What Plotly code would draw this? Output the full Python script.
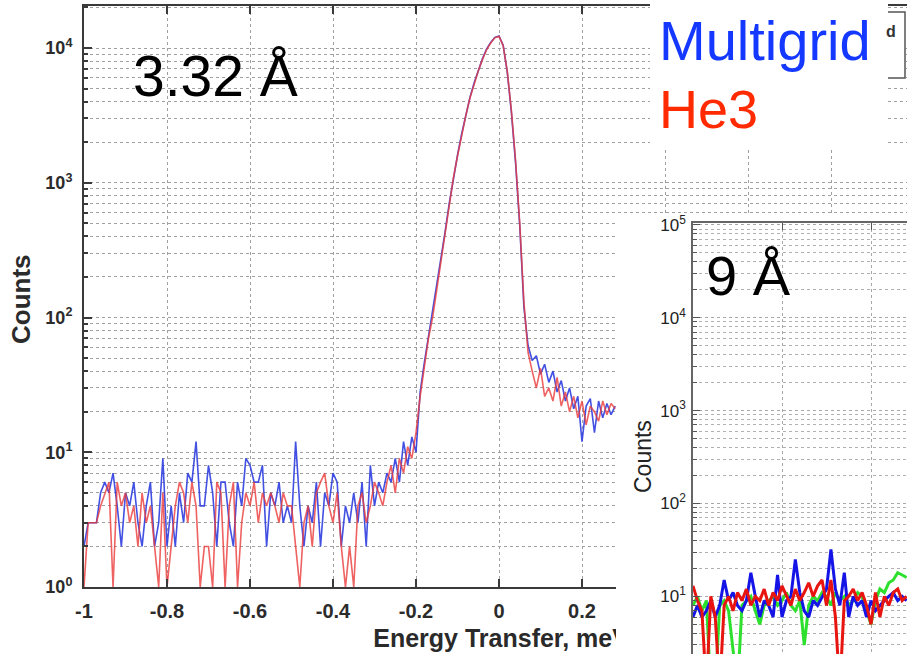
import numpy as np
import plotly.graph_objects as go

W, H = 907, 654

# ---------------- 3.32 Å measurement (0.01 meV bins) ----------------
energy_332 = np.round(np.arange(-1.0, 0.2801, 0.01), 2)

multigrid_332 = [
    2, 3, 3, 3, 5, 6, 5, 7, 4, 2,
    5, 4, 6, 3, 2, 4, 6, 2, 3, 9,
    2, 4, 2, 5, 3, 7, 6, 12, 4, 4,
    8, 5, 2, 6, 6, 3, 2, 6, 4, 9,
    8, 6, 6, 8, 2, 5, 4, 6, 3, 4,
    3, 12, 4, 2, 4, 3, 6, 2, 5, 4,
    7, 6, 2, 4, 3, 5, 3, 6, 2, 8,
    4, 6, 5, 7, 6, 9, 6, 12, 8, 13,
    10, 28, 46, 72, 105, 165, 265, 430, 700, 1100,
    1600, 2300, 3200, 4300, 5500, 6800, 8300, 9800, 11000, 12000,
    12300, 10500, 6600, 3300, 1400, 480, 120, 62, 48, 52,
    38, 45, 33, 40, 28, 34, 24, 30, 21, 26,
    12, 22, 25, 14, 24, 18, 23, 19, 22,
]

he3_332 = [
    1, 3, 3, 3, 4, 5, 6, 1, 6, 4,
    5, 3, 4, 2, 5, 3, 4, 2, 1, 5,
    1, 2, 4, 6, 5, 3, 6, 4, 1, 2,
    2, 1, 6, 5, 1, 4, 6, 1, 3, 5,
    4, 6, 3, 5, 4, 5, 4, 3, 5, 4,
    4, 2, 1, 3, 4, 2, 5, 6, 7, 4,
    3, 5, 2, 1, 2, 1, 4, 5, 3, 4,
    6, 5, 4, 6, 8, 5, 9, 7, 11, 9,
    14, 26, 44, 70, 100, 160, 260, 420, 690, 1080,
    1580, 2250, 3150, 4250, 5450, 6750, 8200, 9700, 10900, 11900,
    12200, 10400, 6700, 3400, 1450, 500, 130, 55, 40, 30,
    42, 26, 30, 24, 36, 22, 28, 20, 26, 18,
    24, 16, 22, 20, 17, 24, 19, 23, 21,
]

# ---------------- 9 Å measurement (left part of the second panel) ----------------
energy_9 = np.round(np.arange(-1.0, -0.5199, 0.01), 2)

multigrid_9 = [
    6, 8, 6, 7, 9, 6, 8, 15, 9, 11,
    8, 7, 9, 18, 10, 6, 9, 8, 6, 17,
    6, 9, 10, 25, 11, 7, 6, 9, 8, 10,
    12, 32, 12, 8, 18, 6, 10, 8, 9, 6,
    9, 7, 8, 9, 10, 11, 9, 10, 9,
]

he3_9 = [
    13, 9, 7, 1, 10, 6, 1, 8, 10, 7,
    11, 9, 12, 8, 10, 9, 12, 8, 11, 9,
    13, 10, 8, 12, 9, 11, 14, 10, 13, 15,
    8, 15, 6, 1, 9, 10, 12, 9, 11, 8,
    5, 11, 6, 10, 8, 11, 12, 9, 10,
]

third_9 = [
    8, 10, 7, 9, 1, 1, 8, 9, 7, 3,
    1, 8, 9, 10, 7, 5, 8, 9, 10, 8,
    9, 11, 8, 7, 9, 3, 8, 10, 9, 11,
    10, 8, 11, 9, 10, 8, 9, 11, 10, 7,
    5, 9, 12, 11, 14, 15, 18, 17, 16,
]

# ---------------- tick labels ----------------
main_x_tickvals = [-1, -0.8, -0.6, -0.4, -0.2, 0, 0.2, 0.4, 0.6, 0.8]
main_x_ticktext = ["-1", "-0.8", "-0.6", "-0.4", "-0.2", "0", "0.2", "", "", ""]
decades = [1, 10, 100, 1000, 10000, 100000]
decade_text = ["10<sup>%d</sup>" % k for k in range(6)]
minor_vals = [m * d for d in decades for m in range(2, 10)]
panel2_x_tickvals = [-0.8, -0.6]
x_title = "Energy Transfer, meV"
x_title_pos = 0.005


# ---------------- pixel helpers ----------------
def px(xp):
    return min(max(xp / W, 0.0), 1.0)


def py(yp):
    return min(max(1 - yp / H, 0.0), 1.0)


# main panel: x = -1 at 84 px, 415 px per meV; 10^0 at 587 px, 134.75 px per decade
MAIN_X0, MAIN_XS = 84, 415.0
MAIN_Y0, MAIN_YS = 587, 134.75
MAIN_TOP = 6
main_xrange = [-1, -1 + (W - MAIN_X0) / MAIN_XS]
main_yrange = [0, (MAIN_Y0 - MAIN_TOP) / MAIN_YS]

# second panel: x = -1 at 693 px, 445 px per meV; 10^1 at 596.4 px, 92.9 px per decade
P2_X0, P2_XS = 693, 445.0
P2_Y1, P2_YS = 596.4, 92.9
P2_TOP = 223
p2_xrange = [-1, -1 + (W - P2_X0) / P2_XS]
p2_yrange = [1 - (H - P2_Y1) / P2_YS, 1 + (P2_Y1 - P2_TOP) / P2_YS]

AXIS = "#3a3a3a"
GRID = "#a0a0a0"
BLUE = "#2f3fe0"
RED = "#ec3b3b"
SANS = "Liberation Sans"

fig = go.Figure()

# main panel curves
fig.add_trace(go.Scatter(x=energy_332, y=multigrid_332, mode="lines", name="Multigrid",
                         line=dict(color=BLUE, width=1.6), opacity=0.9,
                         xaxis="x", yaxis="y", showlegend=False))
fig.add_trace(go.Scatter(x=energy_332, y=he3_332, mode="lines", name="He3",
                         line=dict(color=RED, width=1.6), opacity=0.8,
                         xaxis="x", yaxis="y", showlegend=False))

# overlay axis that carries the x title inside the main subplot's layers
fig.add_trace(go.Scatter(x=[], y=[], xaxis="x4", yaxis="y", showlegend=False, hoverinfo="skip"))

# blank white sheet behind the second panel
fig.add_trace(go.Scatter(x=[], y=[], xaxis="x2", yaxis="y2", showlegend=False, hoverinfo="skip"))

# second panel curves
fig.add_trace(go.Scatter(x=energy_9, y=third_9, mode="lines", name="Series 3",
                         line=dict(color="#2ee02e", width=3),
                         xaxis="x3", yaxis="y3", showlegend=False))
fig.add_trace(go.Scatter(x=energy_9, y=multigrid_9, mode="lines", name="Multigrid",
                         line=dict(color="#1414e6", width=3),
                         xaxis="x3", yaxis="y3", showlegend=False))
fig.add_trace(go.Scatter(x=energy_9, y=he3_9, mode="lines", name="He3",
                         line=dict(color="#e8140f", width=3),
                         xaxis="x3", yaxis="y3", showlegend=False))

main_xfont = dict(family=SANS, size=20, color="#2b2b2b", weight="bold")
main_yfont = dict(family=SANS, size=18, color="#2b2b2b", weight="bold")
p2_tickfont = dict(family=SANS, size=17, color="#222222")

fig.update_layout(
    width=W, height=H,
    margin=dict(l=0, r=0, t=0, b=0, pad=0),
    paper_bgcolor="white", plot_bgcolor="white",
    xaxis=dict(
        domain=[px(MAIN_X0), 1], range=main_xrange, anchor="y", automargin=False,
        tickmode="array", tickvals=main_x_tickvals, ticktext=main_x_ticktext,
        ticks="inside", ticklen=8, tickwidth=1.5, tickcolor=AXIS,
        showline=True, linecolor=AXIS, linewidth=2, mirror="ticks",
        showgrid=True, gridcolor=GRID, griddash="dot", gridwidth=1,
        zeroline=False, tickfont=main_xfont, ticklabelstandoff=5,
    ),
    xaxis4=dict(
        overlaying="x", anchor="y", side="bottom", range=main_xrange, automargin=False,
        tickmode="array", tickvals=[x_title_pos], ticktext=[x_title],
        ticks="", showgrid=False, showline=False, zeroline=False,
        tickfont=dict(family=SANS, size=25, color="#2a2a2a", weight="bold"),
        ticklabelstandoff=34,
    ),
    yaxis=dict(
        type="log", domain=[py(MAIN_Y0), py(MAIN_TOP)], range=main_yrange, anchor="x",
        automargin=False,
        tickmode="array", tickvals=decades[:5], ticktext=decade_text[:5],
        ticks="inside", ticklen=8, tickwidth=1.5, tickcolor=AXIS,
        showline=True, linecolor=AXIS, linewidth=2,
        showgrid=True, gridcolor=GRID, griddash="dot", gridwidth=1,
        zeroline=False, tickfont=main_yfont, ticklabelstandoff=6,
        minor=dict(tickmode="array", tickvals=minor_vals, ticks="inside", ticklen=4,
                   tickcolor=AXIS, showgrid=True, gridcolor=GRID, griddash="dot", gridwidth=1),
    ),
    xaxis2=dict(domain=[px(616), 1], range=[0, 1], anchor="y2", automargin=False, showgrid=False,
                zeroline=False, showline=False, showticklabels=False, ticks=""),
    yaxis2=dict(domain=[0, py(214)], range=[0, 1], anchor="x2", automargin=False, showgrid=False,
                zeroline=False, showline=False, showticklabels=False, ticks=""),
    xaxis3=dict(
        domain=[px(P2_X0), 1], range=p2_xrange, anchor="y3", side="top", automargin=False,
        tickmode="array", tickvals=panel2_x_tickvals, showticklabels=False,
        ticks="inside", ticklen=7, tickcolor="#555555",
        showline=True, linecolor="#666666", linewidth=1.5,
        showgrid=True, gridcolor="#a8a8a8", griddash="dot", gridwidth=1, zeroline=False,
    ),
    yaxis3=dict(
        type="log", domain=[0, py(P2_TOP)], range=p2_yrange, anchor="x3", automargin=False,
        tickmode="array", tickvals=decades[1:], ticktext=decade_text[1:],
        ticks="inside", ticklen=7, tickcolor="#555555",
        showline=True, linecolor="#666666", linewidth=1.5,
        showgrid=True, gridcolor="#a8a8a8", griddash="dot", gridwidth=1,
        zeroline=False, tickfont=p2_tickfont, ticklabelstandoff=2,
        minor=dict(tickmode="array", tickvals=minor_vals, ticks="inside", ticklen=4,
                   tickcolor="#555555", showgrid=True, gridcolor="#b0b0b0", griddash="dot", gridwidth=1),
    ),
    shapes=[
        # frame of the original legend box, mostly hidden
        dict(type="rect", xref="paper", yref="paper", x0=px(880), x1=px(905), y0=py(78), y1=py(12),
             line=dict(color="#555555", width=1.5), fillcolor="white", layer="above"),
        # white label box
        dict(type="rect", xref="paper", yref="paper", x0=px(650), x1=px(888), y0=py(150), y1=1,
             line=dict(width=0), fillcolor="white", layer="above"),
    ],
    annotations=[
        dict(text="d", x=px(898), y=py(31), xref="paper", yref="paper", xanchor="right", yanchor="middle",
             showarrow=False, font=dict(family=SANS, size=16, color="#333333", weight="bold")),
        dict(text="3.32 Å", x=px(131), y=py(76), xref="paper", yref="paper", xanchor="left", yanchor="middle",
             showarrow=False, font=dict(family=SANS, size=57, color="black")),
        dict(text="9 Å", x=px(704), y=py(275), xref="paper", yref="paper", xanchor="left", yanchor="middle",
             showarrow=False, font=dict(family=SANS, size=56, color="black")),
        dict(text="Multigrid", x=px(657), y=py(41), xref="paper", yref="paper", xanchor="left", yanchor="middle",
             showarrow=False, font=dict(family=SANS, size=56, color="#1438ff")),
        dict(text="He3", x=px(657), y=py(109), xref="paper", yref="paper", xanchor="left", yanchor="middle",
             showarrow=False, font=dict(family=SANS, size=54, color="#ff2a00")),
        dict(text="Counts", x=px(21), y=py(299), xref="paper", yref="paper", xanchor="center", yanchor="middle",
             textangle=-90, showarrow=False, font=dict(family=SANS, size=26, color="#2b2b2b", weight="bold")),
        dict(text="Counts", x=px(643), y=py(457), xref="paper", yref="paper", xanchor="center", yanchor="middle",
             textangle=-90, showarrow=False, font=dict(family=SANS, size=23, color="#222222")),
    ],
)

fig.write_html("out.html")
